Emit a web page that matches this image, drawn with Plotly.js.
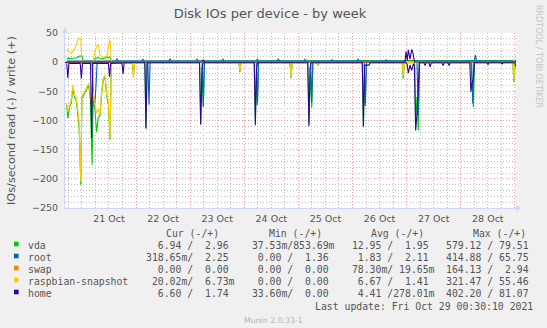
<!DOCTYPE html>
<html>
<head>
<meta charset="utf-8">
<script src="https://cdn.plot.ly/plotly-3.0.1.min.js"></script>
<style>html,body{margin:0;padding:0;background:#f0f0f0;}#chart{width:547px;height:328px;}</style>
</head>
<body>
<div id="chart"></div>
<script>
// ---------------- DATA ----------------
const devices = ['vda', 'root', 'swap', 'raspbian-snapshot', 'home'];
const deviceColors = ['#00cc00', '#0066b3', '#ff8000', '#ffcc00', '#330099'];

// times are "DD HH:MM" in October 2021
const vdaReadT = ['20 17:15','20 17:45','20 18:30','20 19:15','20 20:00','20 20:45','20 21:30','20 22:15','20 22:45','20 23:30','21 00:00','21 00:45','21 01:30','21 02:15','21 03:00','21 03:45','21 04:30','21 05:00','21 05:45','21 06:30','21 07:15','21 08:00','21 08:45','21 09:30','21 10:15','21 11:00','21 11:45','21 12:30','21 13:00',
 '21 22:20','21 22:50','21 23:20',
 '22 03:55','22 04:25','22 04:55',
 '23 04:10','23 04:40','23 05:15','23 05:50','23 06:20',
 '23 21:35','23 22:05','23 22:35',
 '24 04:25','24 04:55','24 05:20','24 05:50','24 06:20',
 '24 20:15','24 20:45','24 21:15',
 '25 04:10','25 04:40','25 05:20','25 05:55','25 06:25',
 '25 08:10','25 08:40','25 09:10',
 '26 04:20','26 04:50','26 05:15','26 05:40','26 06:10',
 '26 22:00','26 22:30','26 23:00',
 '27 03:30','27 04:00','27 04:35','27 05:10','27 05:40',
 '28 04:30','28 05:00','28 05:35','28 06:05',
 '28 23:05','28 23:35','29 00:05','29 00:30'];
const vdaRead = [-73,-96,-78,-70,-45,-60,-66,-90,-110,-210,-62,-57,-50,-45,-40,-62,-176,-65,-80,-120,-95,-92,-55,-30,-25,-58,-72,-133,-2,
 -1,-21,-1,
 -1,-115,-1,
 -1,-107,-20,-77,-1,
 -1,-17,-1,
 -1,-100,-20,-73,-1,
 -1,-27,-1,
 -1,-105,-20,-78,-1,
 -1,-6,-1,
 -1,-112,-20,-70,-1,
 -1,-28,-1,
 -1,-100,-60,-117,-1,
 -1,-45,-77,-1,
 -1,-34,-5,-7];

const vdaWriteT = ['20 17:15','20 18:30','20 20:00','20 21:30','20 22:45','20 23:30','21 00:00','21 00:30','21 05:00','21 05:45','21 07:00','21 09:00','21 11:00','21 12:30','21 13:00','29 00:00','29 00:30'];
const vdaWrite = [6,6,6,7,10,11,11,2,2,6,8,6,7,9,2,2,3];

const rootReadT = ['20 17:15','21 04:30','21 05:00','21 05:45','21 06:15','21 06:45','22 05:15','22 05:45','22 06:15','23 05:20','23 05:50','23 06:20','24 05:20','24 05:50','24 06:20','25 05:25','25 05:55','25 06:25','26 05:10','26 05:40','26 06:10','27 04:35','27 05:10','27 05:40','28 04:50','28 05:20','28 05:50','29 00:30'];
const rootRead = [0,0,-55,-70,-40,0, 0,-73,0, 0,-76,0, 0,-73,0, 0,-70,0, 0,-75,0, 0,-90,0, 0,-71,0, 0];

const rootWriteT = ['20 17:15','21 15:05','21 15:35','21 16:05','22 02:35','22 03:05','22 03:35','22 14:35','22 15:05','22 15:35','23 02:30','23 03:00','23 03:30','23 14:05','23 14:35','23 15:05','24 05:20','24 05:50','24 06:20','24 14:35','24 15:05','24 15:35','25 02:25','25 02:55','25 03:25','25 14:25','25 14:55','25 15:25','26 01:55','26 02:25','26 02:55','26 14:25','26 14:55','26 15:25','28 06:00','28 06:30','28 07:00','29 00:30'];
const rootWrite = [2,2,6,2,2,5,2,2,6,2,2,5,2,2,5,2,2,5,2,2,6,2,2,5,2,2,4,2,2,5,2,2,4,2,2,12,2,2];

const swapReadT = ['20 17:15','29 00:30'];
const swapRead = [0,0];
const swapWriteT = ['20 17:15','29 00:30'];
const swapWrite = [0,0];

const rasReadT = ['20 17:15','20 17:45','20 18:30','20 19:15','20 20:00','20 20:45','20 21:30','20 22:15','20 22:45','20 23:30','21 00:00','21 00:45','21 01:30','21 02:15','21 03:00','21 03:45','21 04:30','21 05:00','21 05:45','21 06:30','21 07:15','21 08:00','21 08:45','21 09:30','21 10:15','21 11:00','21 11:45','21 12:30','21 13:00',
 '21 22:20','21 22:50','21 23:20',
 '23 21:35','23 22:05','23 22:35',
 '24 20:15','24 20:45','24 21:15',
 '25 08:10','25 08:40','25 09:10',
 '26 22:00','26 22:30','26 23:00',
 '28 23:05','28 23:35','29 00:05','29 00:30'];
const rasRead = [-70,-85,-76,-65,-39,-56,-62,-85,-100,-205,-58,-54,-48,-42,-36,-56,-70,-50,-73,-88,-80,-90,-50,-27,-22,-55,-67,-130,0,
 0,-27,0,
 0,-15,0,
 0,-25,0,
 0,-5,0,
 0,-24,0,
 0,-31,0,0];

const rasWriteT = ['20 17:15','20 17:45','20 18:30','20 19:15','20 20:00','20 20:45','20 21:30','20 22:15','20 22:45','20 23:30','21 00:00','21 05:00','21 05:45','21 06:30','21 07:15','21 08:00','21 09:30','21 10:15','21 11:00','21 11:45','21 12:30','21 13:00','28 23:05','28 23:35','29 00:05','29 00:30'];
const rasWrite = [20,21,17,15,19,22,30,40,41,40,0,0,18,27,30,12,8,9,10,27,38,0,0,3,0,0];

const homeReadT = ['20 17:15','20 17:45','20 18:15','20 23:15','20 23:45','21 00:15','21 03:50','21 04:20','21 04:50','21 11:45','21 12:15','21 12:45','21 17:45','21 18:15','21 18:45','22 03:55','22 04:25','22 04:55',
 '23 04:10','23 04:40','23 05:15','23 05:45',
 '24 04:25','24 04:55','24 05:25','24 05:55',
 '25 04:10','25 04:40','25 05:10','25 05:40',
 '26 04:20','26 04:50','26 05:20','26 07:20','26 07:50',
 '26 23:45','27 00:15','27 00:45','27 01:30','27 02:15','27 03:00','27 03:30','27 04:00','27 04:35','27 05:10','27 05:40',
 '27 07:40','27 08:10','27 08:40','27 09:55','27 10:25','27 10:55','27 15:40','27 16:10','27 16:40','27 18:20','27 18:50','27 19:20',
 '28 04:00','28 04:30','28 05:00','28 05:35','28 06:05','28 11:35','28 12:05','28 12:35','28 17:50','28 18:20','28 18:50','29 00:00','29 00:30'];
const homeRead = [-2,-27,-2,-2,-28,-2,-2,-130,-2,-2,-25,-2,-1,-20,-1,-1,-113,-1,
 -1,-107,-10,-1,
 -1,-108,-10,-1,
 -1,-110,-10,-1,
 -1,-110,-5,-5,-1,
 -1,-4,-19,-5,-14,-3,-8,-117,-90,-40,-1,
 -1,-6,-1,-1,-8,-1,-1,-6,-1,-1,-6,-1,
 -1,-51,-35,-30,-1,-1,-4,-1,-1,-3,-1,-1,-7];

const homeWriteT = ['20 17:15','23 05:20','23 05:50','23 06:20','26 23:15','26 23:45','27 00:15','27 00:45','27 01:30','27 02:15','27 02:50','27 03:30','29 00:00','29 00:30'];
const homeWrite = [0.3,0.3,4,0.3,0.3,18,3,21,5,22,15,0.3,0.3,1.7];

// legend table
const legendHeaders = ['Cur (-/+)', 'Min (-/+)', 'Avg (-/+)', 'Max (-/+)'];
const legendCur = ['  6.94 /  2.96 ', '318.65m/  2.25 ', '  0.00 /  0.00 ', ' 20.02m/  6.73m', '  6.60 /  1.74 '];
const legendMin = [' 37.53m/853.69m', '  0.00 /  1.36 ', '  0.00 /  0.00 ', '  0.00 /  0.00 ', ' 33.60m/  0.00 '];
const legendAvg = [' 12.95 /  1.95 ', '  1.83 /  2.11 ', ' 78.30m/ 19.65m', '  6.67 /  1.41 ', '  4.41 /278.01m'];
const legendMax = ['579.12 / 79.51 ', '414.88 / 65.75 ', '164.13 /  2.94 ', '321.47 / 55.46 ', '402.20 / 81.07 '];
const lastUpdate = 'Last update: Fri Oct 29 00:30:10 2021';

// ---------------- RENDER ----------------
const T = arr => arr.map(s => '2021-10-' + s);
const series = [
  [vdaReadT, vdaRead, vdaWriteT, vdaWrite],
  [rootReadT, rootRead, rootWriteT, rootWrite],
  [swapReadT, swapRead, swapWriteT, swapWrite],
  [rasReadT, rasRead, rasWriteT, rasWrite],
  [homeReadT, homeRead, homeWriteT, homeWrite]
];
const traces = [];
series.forEach((s, i) => {
  traces.push({x: T(s[0]), y: s[1], type: 'scatter', mode: 'lines', line: {color: deviceColors[i], width: 1.1}, hoverinfo: 'skip'});
  traces.push({x: T(s[2]), y: s[3], type: 'scatter', mode: 'lines', line: {color: deviceColors[i], width: 1.1}, hoverinfo: 'skip'});
});

const W = 547, H = 328, ML = 65, MR = 31, MT = 33, MB = 120;
const PW = W - ML - MR, PH = H - MT - MB;
const px = x => (x - ML) / PW;
const py = y => (H - MB - y) / PH;

const mono = 'DejaVu Sans Mono, Liberation Mono, monospace';
const sans = 'DejaVu Sans, Liberation Sans, sans-serif';
const txtCol = '#555555';
const nb = s => s.replace(/ /g, '\u00a0');
const ann = (x, y, text, opts) => Object.assign({
  xref: 'paper', yref: 'paper', x: px(x), y: py(y), text: text, showarrow: false,
  xanchor: 'left', yanchor: 'middle', borderpad: 0, borderwidth: 0,
  font: {family: mono, size: 9.8, color: txtCol}
}, opts || {});

const annotations = [];
const shapes = [];
const charW = 5.9, x0 = 27.5;
const colStart = [x0 + 20 * charW, x0 + 37 * charW, x0 + 54 * charW, x0 + 71 * charW];
const headerX = [165.5, 268.5, 371, 473];
legendHeaders.forEach((h, i) => annotations.push(ann(headerX[i], 233.5, nb(h))));
devices.forEach((d, i) => {
  const yy = 245.5 + 12 * i;
  annotations.push(ann(x0, yy, nb(d)));
  [legendCur, legendMin, legendAvg, legendMax].forEach((col, j) => annotations.push(ann(colStart[j], yy, nb(col[i]))));
  shapes.push({type: 'rect', xref: 'paper', yref: 'paper', x0: px(14), x1: px(18.6), y0: py(yy - 3.8), y1: py(yy + 0.8),
    fillcolor: deviceColors[i], line: {width: 0}});
});
annotations.push(ann(533, 306, nb(lastUpdate), {xanchor: 'right'}));
annotations.push(ann(273.5, 320, 'Munin 2.0.33-1', {xanchor: 'center', font: {family: sans, size: 7.8, color: '#b4b4b4'}}));
annotations.push(ann(539, 56, 'RRDTOOL / TOBI OETIKER', {xanchor: 'center', textangle: 90, font: {family: sans, size: 8, color: '#c4c4c4'}}));
annotations.push(ann(11, 121, 'IOs/second read (-) / write (+)', {xanchor: 'center', textangle: -90, font: {family: sans, size: 11.3, color: txtCol}}));

// axis arrows
const arrowCol = '#cfd6f8';
shapes.push({type: 'path', xref: 'paper', yref: 'paper', path: `M ${px(62)},${py(33)} L ${px(65)},${py(27)} L ${px(68)},${py(33)} Z`, fillcolor: arrowCol, line: {width: 0}});
shapes.push({type: 'path', xref: 'paper', yref: 'paper', path: `M ${px(516)},${py(205)} L ${px(522)},${py(208)} L ${px(516)},${py(211)} Z`, fillcolor: arrowCol, line: {width: 0}});

const majorGrid = '#f29a9a', minorGrid = '#bdbdbd';
const layout = {
  width: W, height: H,
  margin: {l: ML, r: MR, t: MT, b: MB},
  paper_bgcolor: '#f0f0f0', plot_bgcolor: '#ffffff',
  showlegend: false, hovermode: false,
  title: {text: 'Disk IOs per device - by week', xref: 'container', x: 270 / W, xanchor: 'center',
          yref: 'container', y: 1 - 13 / H, yanchor: 'middle', font: {family: sans, size: 13, color: txtCol}},
  xaxis: {
    type: 'date', range: ['2021-10-20 16:30', '2021-10-29 00:30'],
    tick0: '2021-10-21', dtick: 86400000, ticklabelmode: 'period', tickformat: '%d %b',
    showgrid: true, gridcolor: majorGrid, griddash: '1px,2px', gridwidth: 1,
    minor: {dtick: 21600000, tick0: '2021-10-21', showgrid: true, gridcolor: minorGrid, griddash: '1px,2px', gridwidth: 1},
    showline: true, linecolor: arrowCol, linewidth: 1, zeroline: false,
    ticks: '', ticklabelstandoff: 2,
    tickfont: {family: sans, size: 9.5, color: txtCol}, fixedrange: true
  },
  yaxis: {
    range: [-250, 50], tick0: 0, dtick: 50,
    showgrid: true, gridcolor: majorGrid, griddash: '1px,2px', gridwidth: 1,
    minor: {dtick: 10, tick0: 0, showgrid: true, gridcolor: minorGrid, griddash: '1px,2px', gridwidth: 1},
    showline: true, linecolor: arrowCol, linewidth: 1,
    zeroline: true, zerolinecolor: '#000000', zerolinewidth: 1,
    ticks: '', ticklabelstandoff: 4,
    tickfont: {family: sans, size: 9.5, color: txtCol}, fixedrange: true
  },
  annotations: annotations,
  shapes: shapes
};

Plotly.newPlot('chart', traces, layout, {staticPlot: true, displayModeBar: false});
</script>
</body>
</html>
